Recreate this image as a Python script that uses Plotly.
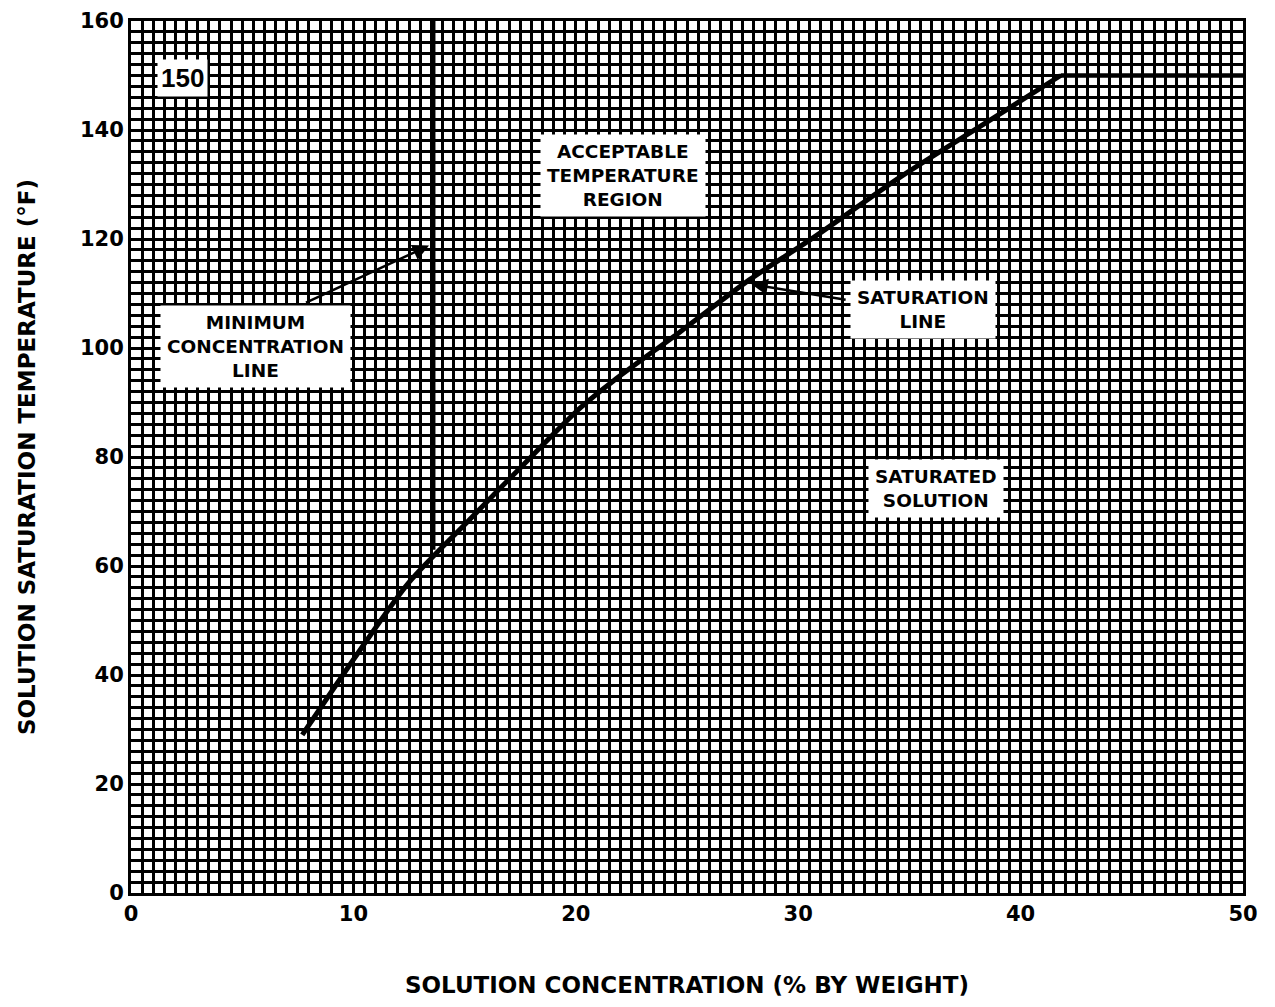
import plotly.graph_objects as go

# Saturation line
sat_x = [7.7, 10.2, 12.5, 15.1, 17.5, 20.2, 21.7, 24.7, 27.8, 30.7, 34.6, 38.2, 41.8]
sat_y = [29, 44, 57, 68, 78, 89, 94, 103, 112.5, 120.3, 131.4, 140.7, 150]

# Minimum concentration line (vertical)
min_x = [13.6, 13.6]
min_y = [63, 160]

# Upper temperature limit line (visible right of the saturation line end)
lim_x = [41.8, 50]
lim_y = [150, 150]

x_ticks = [0, 10, 20, 30, 40, 50]
y_ticks = [0, 20, 40, 60, 80, 100, 120, 140, 160]

FONT = "DejaVu Sans, Liberation Sans, Arial, sans-serif"
FONT2 = "Liberation Sans, Arial, sans-serif"

fig = go.Figure()
fig.add_trace(go.Scatter(x=lim_x, y=lim_y, mode="lines",
                         line=dict(color="black", width=4.5), hoverinfo="skip"))
fig.add_trace(go.Scatter(x=min_x, y=min_y, mode="lines",
                         line=dict(color="black", width=4), hoverinfo="skip"))
fig.add_trace(go.Scatter(x=sat_x, y=sat_y, mode="lines",
                         line=dict(color="black", width=5, shape="spline", smoothing=0.8),
                         hoverinfo="skip"))

def box(text, x, y, size=18.5):
    fig.add_annotation(x=x, y=y, xref="x", yref="y", text=text, showarrow=False,
                       bgcolor="white", borderpad=6,
                       font=dict(family=FONT, size=size, color="black", weight="bold"))

box("ACCEPTABLE<br>TEMPERATURE<br>REGION", 22.1, 131.6)
box("MINIMUM<br>CONCENTRATION<br>LINE", 5.6, 100.2)
box("SATURATION<br>LINE", 35.6, 107.0)
box("SATURATED<br>SOLUTION", 36.2, 74.2)
fig.add_annotation(x=2.3, y=149.5, xref="x", yref="y", text="150", showarrow=False,
                   bgcolor="white", borderpad=3,
                   font=dict(family=FONT2, size=26, color="black", weight="bold"))

# arrows
fig.add_annotation(x=13.4, y=118.8, ax=7.8, ay=108.2, xref="x", yref="y", axref="x", ayref="y",
                   text="", showarrow=True, arrowhead=2, arrowsize=1.3, arrowwidth=2.5, arrowcolor="black")
fig.add_annotation(x=27.9, y=111.7, ax=32.2, ay=108.8, xref="x", yref="y", axref="x", ayref="y",
                   text="", showarrow=True, arrowhead=2, arrowsize=1.3, arrowwidth=2.5, arrowcolor="black")

axis_common = dict(showline=True, linecolor="black", linewidth=3, mirror=True,
                   showgrid=True, gridcolor="black", gridwidth=3.2, zeroline=False,
                   automargin=False, ticklabeloverflow="allow",
                   ticks="", tickfont=dict(family=FONT, size=21, color="black", weight="bold"))

fig.update_layout(
    width=1275, height=1007,
    margin=dict(l=123, r=40, t=13, b=122),
    paper_bgcolor="white", plot_bgcolor="white",
    showlegend=False,
    xaxis=dict(range=[0, 50], tickvals=x_ticks, ticktext=[str(v) for v in x_ticks],
               minor=dict(dtick=0.5, showgrid=True, gridcolor="black", gridwidth=3.2),
               title=dict(text="SOLUTION CONCENTRATION (% BY WEIGHT)", standoff=52,
                          font=dict(family=FONT, size=23, color="black", weight="bold")),
               **axis_common),
    yaxis=dict(range=[0, 160], tickvals=y_ticks, ticktext=[str(v) for v in y_ticks],
               minor=dict(dtick=2, showgrid=True, gridcolor="black", gridwidth=3.2),
               title=dict(text="SOLUTION SATURATION TEMPERATURE (°F)", standoff=38,
                          font=dict(family=FONT, size=23, color="black", weight="bold")),
               **axis_common),
)

fig.write_html("out.html")
